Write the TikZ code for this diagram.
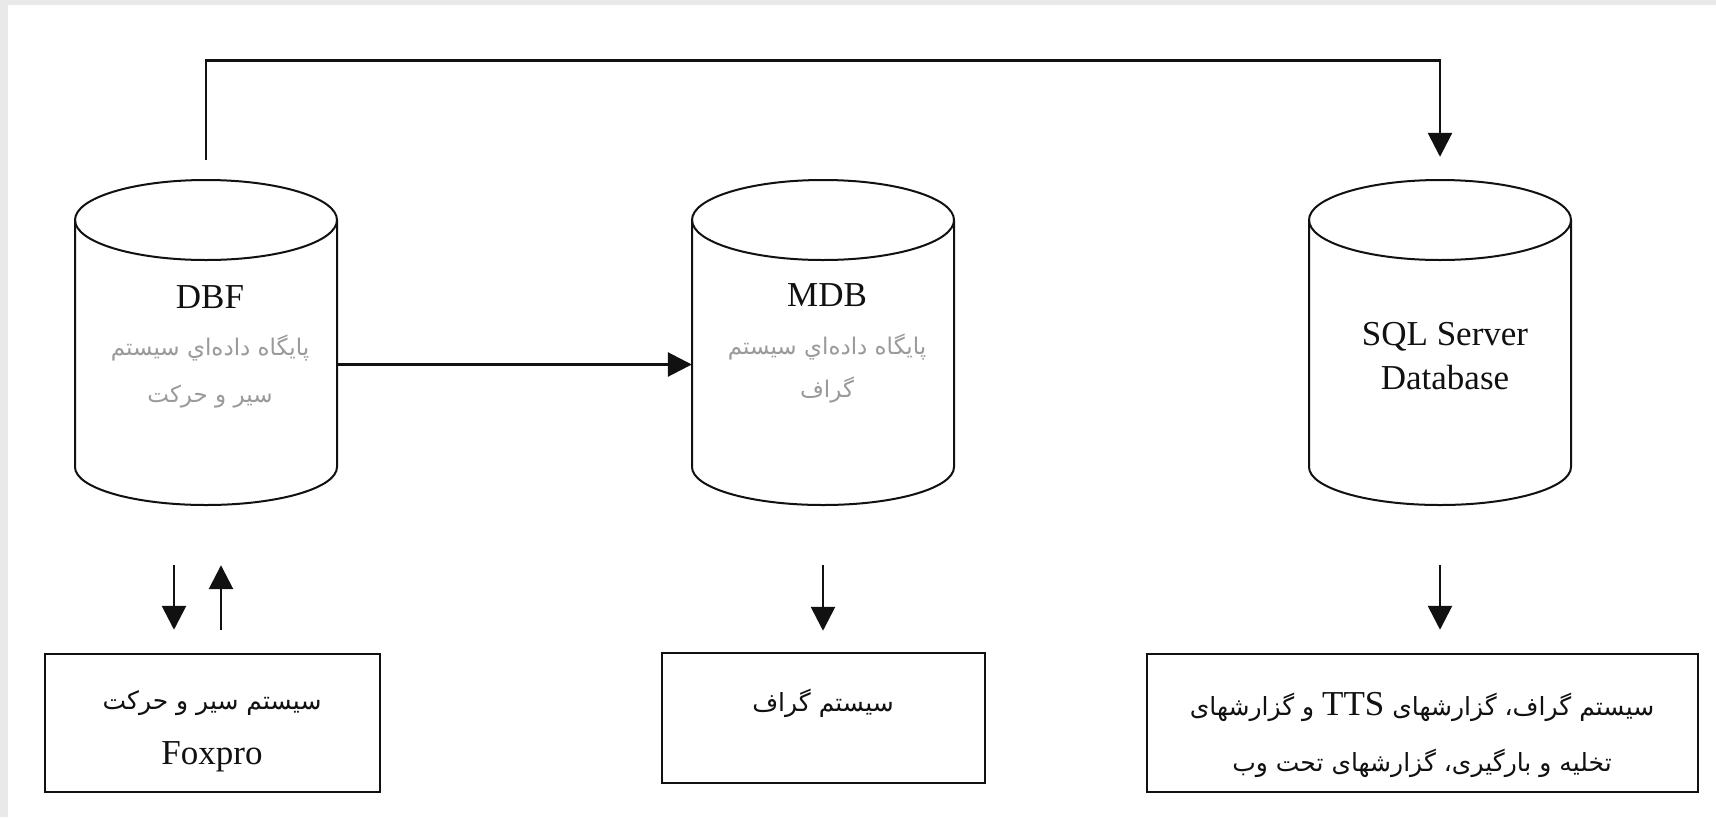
\documentclass[tikz,border=0pt]{standalone}
\usepackage{fontspec}
\setmainfont{Liberation Serif}
\newfontfamily\arabicfont[Script=Arabic]{DejaVu Sans}
\usetikzlibrary{arrows.meta}
\TeXXeTstate=1
\definecolor{bggray}{HTML}{E9E9E9}
\definecolor{txtgray}{HTML}{9A9A9A}
\definecolor{ink}{HTML}{111111}
\newcommand{\drawcyl}[1]{%
  \draw[cylline] (#1-131,220) -- (#1-131,467)
     arc[start angle=180,end angle=360,x radius=131pt,y radius=38pt] -- (#1+131,220);
  \draw[cylline] (#1,220) ellipse[x radius=131pt, y radius=40pt];}
\begin{document}
\begin{tikzpicture}[x=1pt,y=-1pt,
  conn/.style={draw=ink,line width=2.8pt,-{Triangle[width=24pt,length=24pt]}},
  cylline/.style={draw=ink,line width=2pt},
  boxst/.style={draw=ink,line width=2.5pt,inner sep=0pt},
  cylarea/.style={minimum width=262pt,minimum height=325pt,inner sep=0pt},
  lat/.style={font=\fontsize{35}{40}\selectfont,text=ink,inner sep=0pt},
  fa/.style={font=\arabicfont\fontsize{25}{30}\selectfont,inner sep=0pt},
  fagray/.style={font=\arabicfont\fontsize{23}{28}\selectfont,inner sep=0pt,text=txtgray}]
\useasboundingbox (0,0) rectangle (1716,817);
\fill[bggray] (0,0) rectangle (1716,817);
\fill[white] (8,5) rectangle (1716,817);

% cylinders
\drawcyl{206}
\drawcyl{823}
\drawcyl{1440}
\node[cylarea] (dbf) at (206,342.5) {};
\node[cylarea] (mdb) at (823,342.5) {};
\node[cylarea] (sql) at (1440,342.5) {};

\node[lat] (dbft) at (210,297) {DBF};
\node[fagray] (dbfa) at (210,348) {\beginR پایگاه داده‌اي سیستم\endR};
\node[fagray] (dbfb) at (210,397) {\beginR سیر و حرکت\endR};

\node[lat] (mdbt) at (827,295) {MDB};
\node[fagray] (mdba) at (827,347) {\beginR پایگاه داده‌اي سیستم\endR};
\node[fagray] (mdbb) at (827,390) {\beginR گراف\endR};

\node[lat] (sqlt) at (1445,337) {SQL Server};
\node[lat] (sqlb) at (1445,378) {Database};

% boxes
\node[boxst,minimum width=335pt,minimum height=138pt] (fox) at (212.5,723) {};
\node[boxst,minimum width=323pt,minimum height=130pt] (graf) at (823.5,718) {};
\node[boxst,minimum width=551pt,minimum height=138pt] (rep) at (1422.5,723) {};

\node[fa,text=ink] (foxa) at (212,703) {\beginR سیستم سیر و حرکت\endR};
\node[lat] (foxb) at (212,757) {Foxpro};
\node[fa,text=ink] (grafa) at (823,703) {\beginR سیستم گراف\endR};
\node[fa,text=ink] (repa) at (1422,707) {\beginR سیستم گراف، گزارشهای {\rmfamily\fontsize{35}{40}\selectfont\beginL TTS\endL{}} و گزارشهای\endR};
\node[fa,text=ink] (repb) at (1422,763) {\beginR تخلیه و بارگیری، گزارشهای تحت وب\endR};

% connectors
\draw[conn] ([yshift=-22pt]dbf.east) -- ([yshift=-22pt]mdb.west);
\draw[conn] ([yshift=20pt]dbf.north) -- ++(0,-99) -| ([yshift=23pt]sql.north);
\draw[conn] ([xshift=-32pt,yshift=-60pt]dbf.south) -- ([xshift=-38.5pt,yshift=23pt]fox.north);
\draw[conn] ([xshift=8.5pt,yshift=23pt]fox.north) -- ([xshift=15pt,yshift=-60pt]dbf.south);
\draw[conn] ([yshift=-60pt]mdb.south) -- ([xshift=-0.5pt,yshift=21pt]graf.north);
\draw[conn] ([yshift=-60pt]sql.south) -- ([xshift=17.5pt,yshift=23pt]rep.north);
\end{tikzpicture}
\end{document}
